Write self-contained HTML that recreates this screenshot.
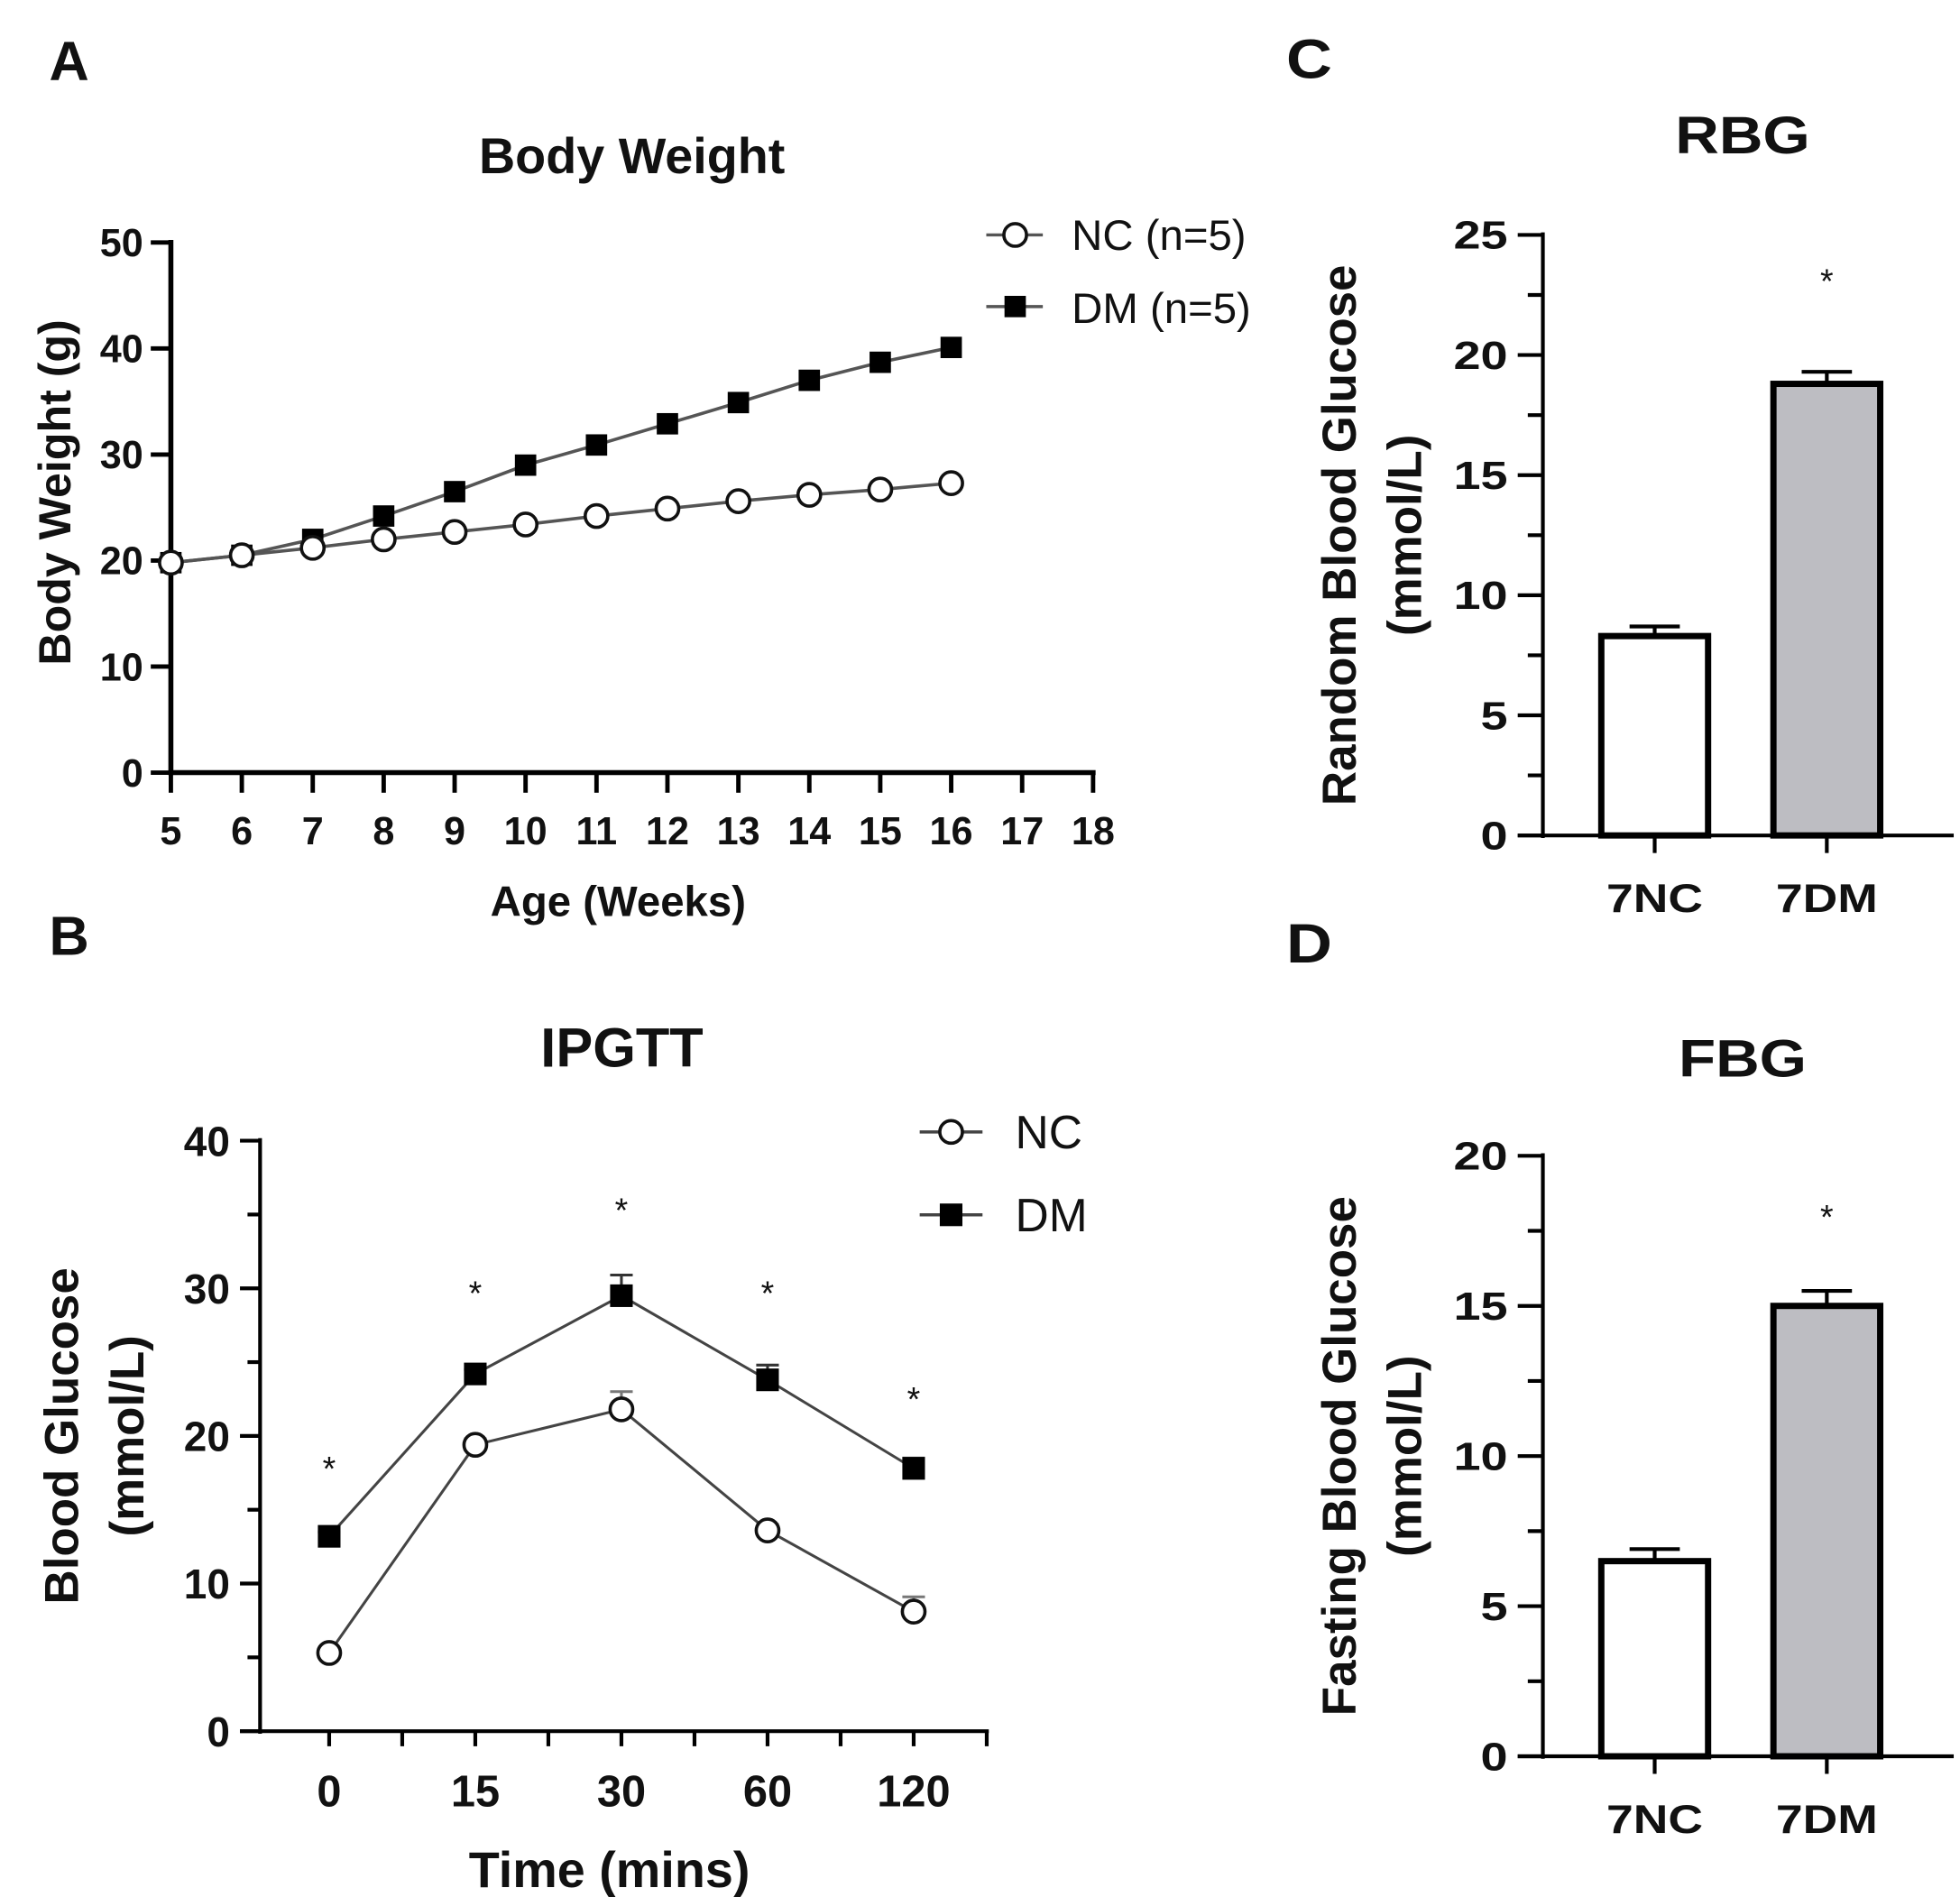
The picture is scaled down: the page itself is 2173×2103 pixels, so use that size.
<!DOCTYPE html>
<html><head><meta charset="utf-8"><style>
html,body{margin:0;padding:0;background:#fff;}
svg{display:block;font-family:"Liberation Sans",Arial,sans-serif;}
</style></head><body>
<svg id="fig" width="2173" height="2103" viewBox="0 0 1560 1510" preserveAspectRatio="none" xmlns="http://www.w3.org/2000/svg">
<rect width="1560" height="1510" fill="#fff"/>
<g id="A"></g>
<g id="B"></g>
<g id="C"></g>
<g id="D"></g>
</svg>
<script>
// Panel A data
const weeks = [5,6,7,8,9,10,11,12,13,14,15,16];
const ncWeight = [19.8,20.5,21.2,22.0,22.7,23.4,24.2,24.9,25.6,26.2,26.7,27.3];
const dmWeight = [19.8,20.5,22.0,24.2,26.5,29.0,30.9,32.9,34.9,37.0,38.7,40.1];
const weekTicks = [5,6,7,8,9,10,11,12,13,14,15,16,17,18];
const weightTicks = [0,10,20,30,40,50];
// Panel B data
const timeCats = ["0","15","30","60","120"];
const ncGlucose = [5.3,19.4,21.8,13.6,8.1];
const ncGlucoseErr = [0.3,0.4,1.2,0.4,1.0];
const dmGlucose = [13.2,24.2,29.5,23.8,17.8];
const dmGlucoseErr = [0.3,0.3,1.4,1.0,0.7];
const starB = [18.1,30.0,35.6,30.0,22.8];
const glucoseTicks = [0,10,20,30,40];
// Panel C data
const barCats = ["7NC","7DM"];
const rbgVals = [8.3,18.8];
const rbgErr = [0.4,0.5];
const rbgTicks = [0,5,10,15,20,25];
// Panel D data
const fbgVals = [6.5,15.0];
const fbgErr = [0.4,0.5];
const fbgTicks = [0,5,10,15,20];

const NS="http://www.w3.org/2000/svg";
function mk(parent,tag,attrs,text){
  const e=document.createElementNS(NS,tag);
  for(const k in attrs) e.setAttribute(k,attrs[k]);
  if(text!==undefined) e.textContent=text;
  parent.appendChild(e); return e;
}
function txt(p,x,y,s,size,anchor,weight,name,rot,sx){
  const t=mk(p,'text',{x:x,y:y,'font-size':size,'text-anchor':anchor||'middle','font-weight':weight||'bold',fill:'#111'},s);
  let tr='';
  if(sx) tr+='translate('+x+' '+y+') scale('+sx+' 1) translate('+(-x)+' '+(-y)+') ';
  if(rot) tr+='rotate(-90 '+x+' '+y+')';
  if(tr) t.setAttribute('transform',tr);
  
  
  return t;
}
function line(p,x1,y1,x2,y2,w,c,name){
  const l=mk(p,'line',{x1:x1,y1:y1,x2:x2,y2:y2,stroke:c||'#000','stroke-width':w});
  
  
  return l;
}
function circ(p,x,y,name){
  const c=mk(p,'circle',{cx:x,cy:y,r:9,fill:'#fff',stroke:'#111','stroke-width':2.6});
  
  
}
function sq(p,x,y,s,name){
  const r=mk(p,'rect',{x:x-s/2,y:y-s/2,width:s,height:s,fill:'#000'});
  
  
}

// ---------- Panel A ----------
(function(){
  const g=document.getElementById('A');
  const x0=136,x1=870,y0=615,y1=193;
  const X=v=>x0+(v-5)/(18-5)*(x1-x0);
  const Y=v=>y0-(v/50)*(y0-y1);
  txt(g,55,64,'A',44,'middle','bold','panel-label-a');
  txt(g,503,138,'Body Weight',40,'middle','bold','chart-title-a');
  line(g,x0,y1-2,x0,y0+2,4,'#000','y-axis-a');
  line(g,x0-2,y0,x1+2,y0,4,'#000','x-axis-a');
  weightTicks.forEach(v=>{line(g,x0-16,Y(v),x0,Y(v),3.5,'#000','y-tick-a');txt(g,x0-22,Y(v)+11,String(v),31,'end','bold','y-tick-label-a');});
  weekTicks.forEach(v=>{line(g,X(v),y0,X(v),y0+16,3.5,'#000','x-tick-a');txt(g,X(v),y0+57,String(v),31,'middle','bold','x-tick-label-a');});
  txt(g,492,729,'Age (Weeks)',34,'middle','bold','x-axis-title-a');
  txt(g,56,392,'Body Weight (g)',36,'middle','bold','y-axis-title-a',true);
  const ncPts=weeks.map((w,i)=>X(w)+','+Y(ncWeight[i])).join(' ');
  const dmPts=weeks.map((w,i)=>X(w)+','+Y(dmWeight[i])).join(' ');
  const pd=mk(g,'polyline',{points:dmPts,fill:'none',stroke:'#555','stroke-width':2.6});
  
  const pn=mk(g,'polyline',{points:ncPts,fill:'none',stroke:'#555','stroke-width':2.6});
  
  weeks.forEach((w,i)=>sq(g,X(w),Y(dmWeight[i]),17,'dm-weight-point'));
  weeks.forEach((w,i)=>circ(g,X(w),Y(ncWeight[i]),'nc-weight-point'));
  line(g,785,187,830,187,2.5,'#555','legend-line-nc');circ(g,808,187,'legend-marker-nc');
  txt(g,853,199,'NC (n=5)',34,'start','normal','legend-entry-nc');
  line(g,785,244,830,244,2.5,'#555','legend-line-dm');sq(g,808,244,17,'legend-marker-dm');
  txt(g,853,257,'DM (n=5)',34,'start','normal','legend-entry-dm');
})();

// ---------- Panel B ----------
(function(){
  const g=document.getElementById('B');
  const x0=207,x1=785,y0=1378,y1=908;
  const cx0=262,step=116.3;
  const X=i=>cx0+i*step;
  const Y=v=>y0-(v/40)*(y0-y1);
  txt(g,55,760,'B',44,'middle','bold','panel-label-b');
  txt(g,495,849,'IPGTT',44,'middle','bold','chart-title-b');
  line(g,x0,y1-2,x0,y0+2,3,'#000','y-axis-b');
  line(g,x0-16,y0,x1+2,y0,3,'#000','x-axis-b');
  for(let v=0;v<=40;v+=5){const major=v%10===0;line(g,major?x0-16:x0-10,Y(v),x0,Y(v),3,'#000','y-tick-b');}
  glucoseTicks.forEach(v=>txt(g,x0-24,Y(v)+12,String(v),33,'end','bold','y-tick-label-b'));
  for(let i=0;i<10;i++){line(g,X(0)+i*step/2,y0,X(0)+i*step/2,y0+12,3,'#000','x-tick-b');}
  timeCats.forEach((c,i)=>txt(g,X(i),y0+60,c,35,'middle','bold','x-tick-label-b'));
  txt(g,485,1502,'Time  (mins)',40,'middle','bold','x-axis-title-b');
  txt(g,62,1143,'Blood Glucose',38,'middle','bold','y-axis-title-b',true);
  txt(g,114,1143,'(mmol/L)',38,'middle','bold','y-axis-unit-b',true);
  dmGlucose.forEach((v,i)=>{line(g,X(i),Y(v),X(i),Y(v+dmGlucoseErr[i]),2.2,'#333','dm-errorbar');line(g,X(i)-9,Y(v+dmGlucoseErr[i]),X(i)+9,Y(v+dmGlucoseErr[i]),2.2,'#333','dm-errorcap');});
  ncGlucose.forEach((v,i)=>{line(g,X(i),Y(v),X(i),Y(v+ncGlucoseErr[i]),2.2,'#777','nc-errorbar');line(g,X(i)-9,Y(v+ncGlucoseErr[i]),X(i)+9,Y(v+ncGlucoseErr[i]),2.2,'#777','nc-errorcap');});
  const pd=mk(g,'polyline',{points:dmGlucose.map((v,i)=>X(i)+','+Y(v)).join(' '),fill:'none',stroke:'#444','stroke-width':2.2});
  
  const pn=mk(g,'polyline',{points:ncGlucose.map((v,i)=>X(i)+','+Y(v)).join(' '),fill:'none',stroke:'#444','stroke-width':2.2});
  
  dmGlucose.forEach((v,i)=>sq(g,X(i),Y(v),18,'dm-glucose-point'));
  ncGlucose.forEach((v,i)=>circ(g,X(i),Y(v),'nc-glucose-point'));
  starB.forEach((v,i)=>txt(g,X(i),Y(v)+13,'*',27,'middle','normal','significance-star-b'));
  line(g,732,901,782,901,2.5,'#444','legend-line-nc-b');circ(g,757,901,'legend-marker-nc-b');
  txt(g,808,914,'NC',37,'start','normal','legend-entry-nc-b');
  line(g,732,967,782,967,2.5,'#444','legend-line-dm-b');sq(g,757,967,18,'legend-marker-dm-b');
  txt(g,808,980,'DM',37,'start','normal','legend-entry-dm-b');
})();

// ---------- Bar panels ----------
function barPanel(id,letter,ly,title,ty,ytop,ybot,max,ticks,vals,errs,starY,ylabel,name){
  const g=document.getElementById(id);
  const x0=1228,x1=1555;
  const centers=[1317,1454],bw=85;
  const Y=v=>ybot-(v/max)*(ybot-ytop);
  txt(g,1042,ly,letter,44,'middle','bold','panel-label-'+name,false,1.15);
  txt(g,1387,ty,title,42,'middle','bold','chart-title-'+name,false,1.15);
  line(g,x0,ytop-2,x0,ybot+2,3,'#000','y-axis-'+name);
  line(g,x0-20,ybot,x1,ybot,3,'#000','x-axis-'+name);
  for(let v=0;v<=max;v+=2.5){const major=v%5===0;line(g,major?x0-20:x0-12,Y(v),x0,Y(v),3,'#000','y-tick-'+name);}
  ticks.forEach(v=>txt(g,x0-28,Y(v)+11,String(v),31,'end','bold','y-tick-label-'+name,false,1.25));
  barCats.forEach((c,i)=>{
    line(g,centers[i],ybot,centers[i],ybot+14,3,'#000','x-tick-'+name);
    txt(g,centers[i],ybot+61,c,32,'middle','bold','x-tick-label-'+name,false,1.2);
    const top=Y(vals[i]+errs[i]);
    line(g,centers[i],Y(vals[i]),centers[i],top,3,'#000','errorbar-'+name);
    line(g,centers[i]-20,top,centers[i]+20,top,3,'#000','errorcap-'+name);
    const r=mk(g,'rect',{x:centers[i]-bw/2,y:Y(vals[i]),width:bw,height:ybot-Y(vals[i]),fill:i===0?'#fff':'#bdbdc2',stroke:'#000','stroke-width':5});
    
    
  });
  txt(g,centers[1],starY+13,'*',27,'middle','normal','significance-star-'+name);
  const cy=(ytop+ybot)/2;
  txt(g,1079,cy,ylabel,38,'middle','bold','y-axis-title-'+name,true);
  txt(g,1131,cy,'(mmol/L)',38,'middle','bold','y-axis-unit-'+name,true);
}
barPanel('C','C',62,'RBG',122,187,665,25,rbgTicks,rbgVals,rbgErr,220,'Random Blood Glucose','c');
barPanel('D','D',766,'FBG',857,920,1398,20,fbgTicks,fbgVals,fbgErr,965,'Fasting Blood Glucose','d');
</script>
</body></html>
